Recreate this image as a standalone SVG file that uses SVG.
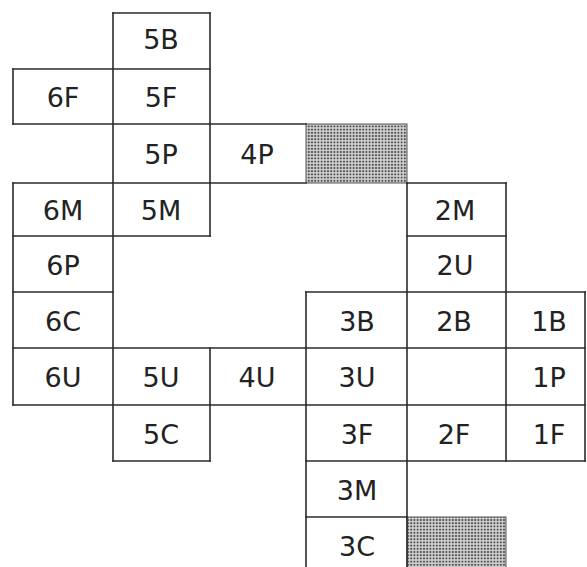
<svg xmlns="http://www.w3.org/2000/svg" width="587" height="567" viewBox="0 0 587 567">
  <style>
    .grid { stroke: #2a2a2a; stroke-width: 1.6; fill: none; stroke-linecap: square; }
    .lbl { font-family: "DejaVu Sans", "Liberation Sans", sans-serif; font-size: 27px; fill: #222; text-anchor: middle; }
    .shade { fill: url(#dots); stroke: #555; stroke-width: 1; }
  </style>
  <defs>
    <pattern id="dots" width="3.2" height="3.2" patternUnits="userSpaceOnUse">
      <rect width="3.2" height="3.2" fill="#d2d2d2"/>
      <circle cx="1.6" cy="1.6" r="1.05" fill="#4a4a4a"/>
    </pattern>
  </defs>
  <rect width="587" height="567" fill="#fff"/>

  <!-- shaded cells -->
  <rect class="shade" x="306" y="124" width="101" height="59"/>
  <rect class="shade" x="407" y="517" width="99" height="52"/>

  <!-- grid lines -->
  <g id="connectors" class="grid">
    <!-- horizontals -->
    <line x1="113" y1="13" x2="210" y2="13"/>
    <line x1="13" y1="69" x2="210" y2="69"/>
    <line x1="13" y1="124" x2="306" y2="124"/>
    <line x1="13" y1="183" x2="306" y2="183"/>
    <line x1="407" y1="183" x2="506" y2="183"/>
    <line x1="13" y1="236" x2="210" y2="236"/>
    <line x1="407" y1="236" x2="506" y2="236"/>
    <line x1="13" y1="292" x2="113" y2="292"/>
    <line x1="306" y1="292" x2="585" y2="292"/>
    <line x1="13" y1="348" x2="585" y2="348"/>
    <line x1="13" y1="405" x2="585" y2="405"/>
    <line x1="113" y1="461" x2="210" y2="461"/>
    <line x1="306" y1="461" x2="585" y2="461"/>
    <line x1="306" y1="517" x2="407" y2="517"/>
    <!-- verticals -->
    <line x1="13" y1="69" x2="13" y2="124"/>
    <line x1="13" y1="183" x2="13" y2="405"/>
    <line x1="113" y1="13" x2="113" y2="461"/>
    <line x1="210" y1="13" x2="210" y2="236"/>
    <line x1="210" y1="348" x2="210" y2="461"/>
    <line x1="306" y1="292" x2="306" y2="570"/>
    <line x1="407" y1="183" x2="407" y2="570"/>
    <line x1="506" y1="183" x2="506" y2="461"/>
    <line x1="585" y1="292" x2="585" y2="461"/>
  </g>

  <!-- labelled cells -->
  <g id="n5B"><text class="lbl" x="161" y="49">5B</text></g>
  <g id="n6F"><text class="lbl" x="63" y="107">6F</text></g>
  <g id="n5F"><text class="lbl" x="161" y="107">5F</text></g>
  <g id="n5P"><text class="lbl" x="161" y="164">5P</text></g>
  <g id="n4P"><text class="lbl" x="257" y="164">4P</text></g>
  <g id="n6M"><text class="lbl" x="63" y="220">6M</text></g>
  <g id="n5M"><text class="lbl" x="161" y="220">5M</text></g>
  <g id="n2M"><text class="lbl" x="455" y="220">2M</text></g>
  <g id="n6P"><text class="lbl" x="63" y="275">6P</text></g>
  <g id="n2U"><text class="lbl" x="455" y="275">2U</text></g>
  <g id="n6C"><text class="lbl" x="63" y="331">6C</text></g>
  <g id="n3B"><text class="lbl" x="357" y="331">3B</text></g>
  <g id="n2B"><text class="lbl" x="454" y="331">2B</text></g>
  <g id="n1B"><text class="lbl" x="549" y="331">1B</text></g>
  <g id="n6U"><text class="lbl" x="63" y="387">6U</text></g>
  <g id="n5U"><text class="lbl" x="161" y="387">5U</text></g>
  <g id="n4U"><text class="lbl" x="257" y="387">4U</text></g>
  <g id="n3U"><text class="lbl" x="357" y="387">3U</text></g>
  <g id="n1P"><text class="lbl" x="549" y="387">1P</text></g>
  <g id="n5C"><text class="lbl" x="161" y="444">5C</text></g>
  <g id="n3F"><text class="lbl" x="357" y="444">3F</text></g>
  <g id="n2F"><text class="lbl" x="454" y="444">2F</text></g>
  <g id="n1F"><text class="lbl" x="549" y="444">1F</text></g>
  <g id="n3M"><text class="lbl" x="357" y="500">3M</text></g>
  <g id="n3C"><text class="lbl" x="357" y="556">3C</text></g>
</svg>
